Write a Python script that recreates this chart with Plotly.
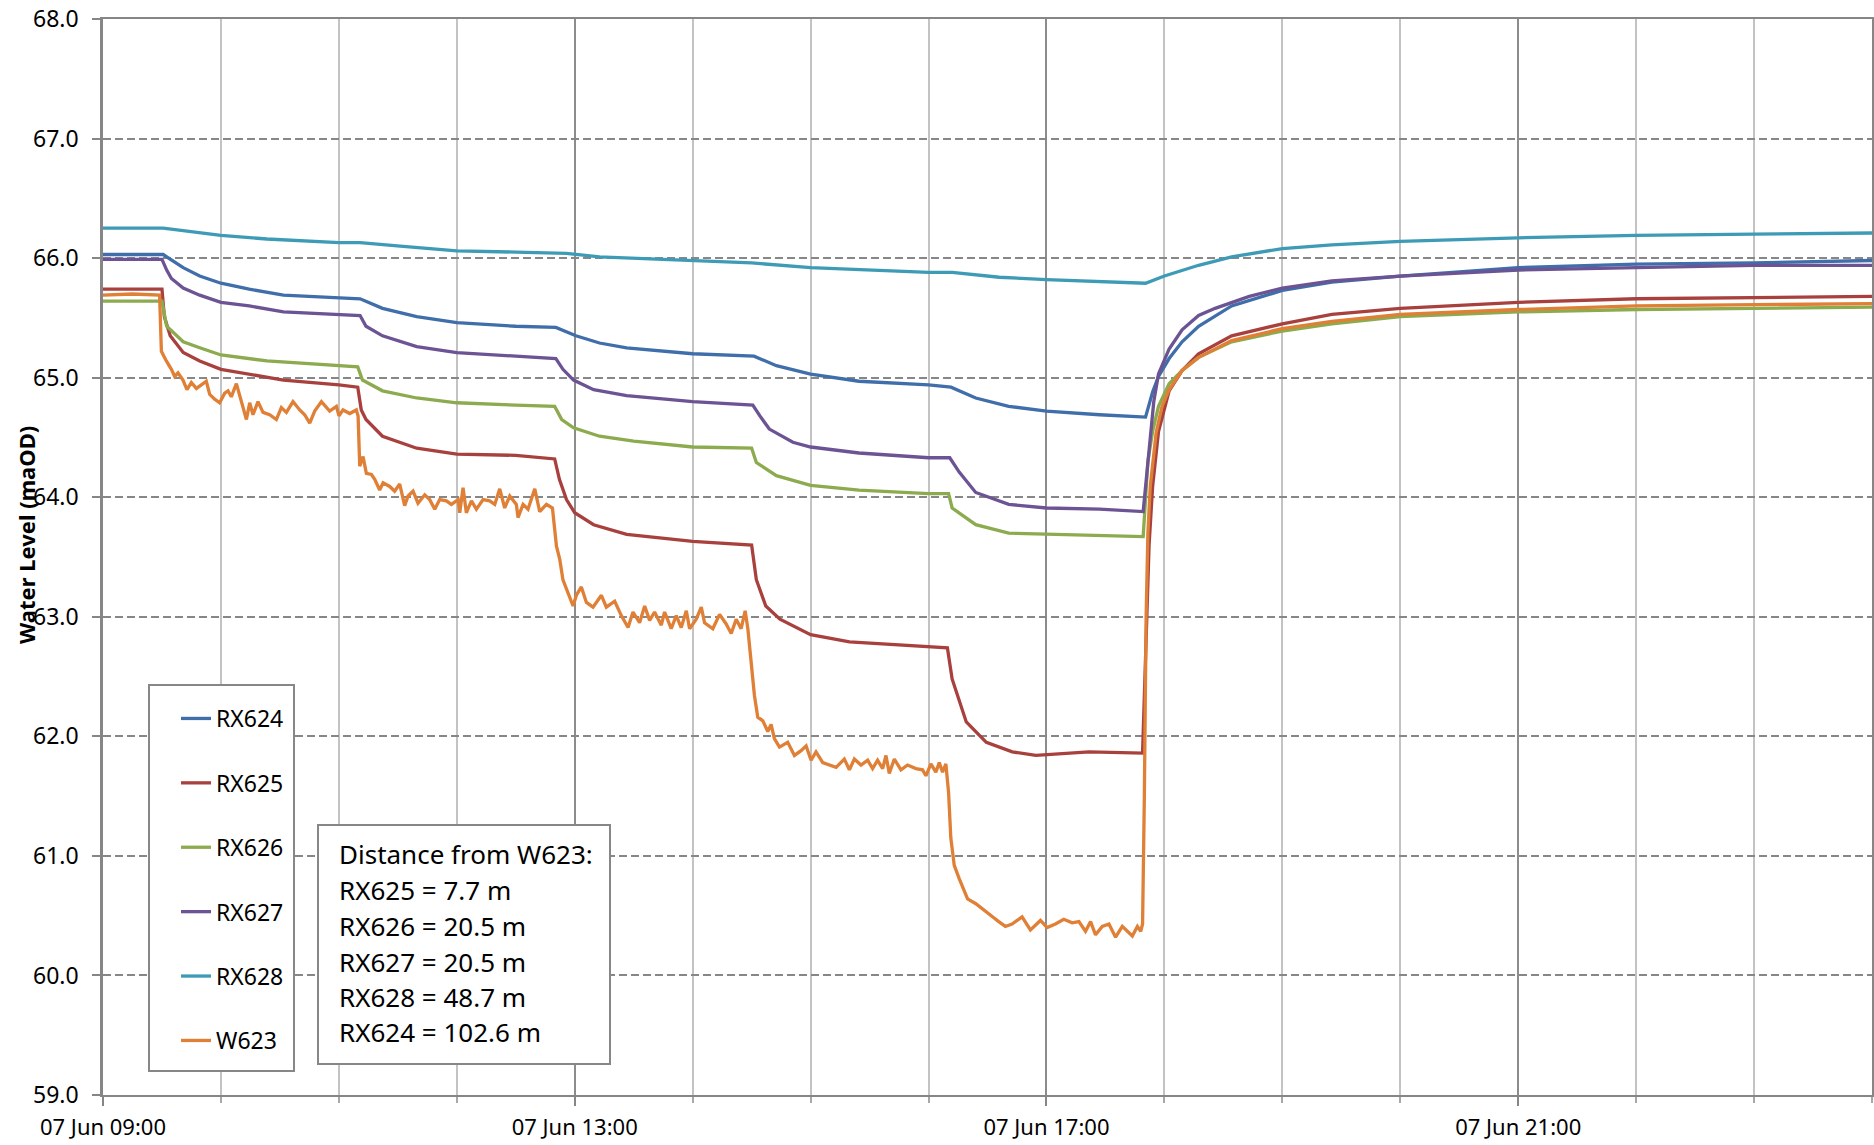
import pandas as pd
import plotly.graph_objects as go

# ---------------- data (hours after midnight, 07 Jun) ----------------
BASE_DATE = "2010-06-07"

rx624_t = [9.0, 9.51, 9.68, 9.82, 10.0, 10.24, 10.53, 11.0, 11.18, 11.37, 11.66, 12.0, 12.5, 12.84, 13.01,
           13.21, 13.44, 14.0, 14.52, 14.71, 15.0, 15.41, 16.0, 16.19, 16.40, 16.68, 17.0, 17.45, 17.84,
           17.9, 17.95, 18.04, 18.15, 18.29, 18.57, 19.0, 19.42, 20.0, 21.0, 22.0, 23.0, 24.0]
rx624_v = [66.03, 66.03, 65.92, 65.85, 65.79, 65.74, 65.69, 65.67, 65.66, 65.58, 65.51, 65.46, 65.43, 65.42, 65.35,
           65.29, 65.25, 65.20, 65.18, 65.10, 65.03, 64.97, 64.94, 64.92, 64.83, 64.76, 64.72, 64.69, 64.67,
           64.88, 65.01, 65.16, 65.30, 65.43, 65.60, 65.73, 65.80, 65.85, 65.92, 65.95, 65.96, 65.98]

rx625_t = [9.0, 9.50, 9.52, 9.57, 9.68, 9.82, 10.0, 10.24, 10.53, 11.0, 11.16, 11.19, 11.23, 11.37, 11.66,
           12.0, 12.5, 12.83, 12.87, 12.93, 13.0, 13.16, 13.44, 14.0, 14.5, 14.54, 14.62, 14.74, 15.0, 15.33,
           16.0, 16.16, 16.2, 16.32, 16.49, 16.71, 16.91, 17.36, 17.815, 17.835, 17.855, 17.87, 17.9, 17.95,
           18.04, 18.15, 18.29, 18.57, 19.0, 19.42, 20.0, 21.0, 22.0, 23.0, 24.0]
rx625_v = [65.74, 65.74, 65.51, 65.35, 65.21, 65.14, 65.07, 65.03, 64.98, 64.94, 64.92, 64.73, 64.65, 64.51, 64.41,
           64.36, 64.35, 64.32, 64.15, 63.98, 63.87, 63.77, 63.69, 63.63, 63.60, 63.31, 63.09, 62.98, 62.85, 62.79,
           62.75, 62.74, 62.48, 62.12, 61.95, 61.87, 61.84, 61.87, 61.86, 62.5, 63.2, 63.6, 64.09, 64.55,
           64.89, 65.06, 65.20, 65.35, 65.45, 65.53, 65.58, 65.63, 65.66, 65.67, 65.68]

rx626_t = [9.0, 9.50, 9.54, 9.68, 9.82, 10.0, 10.39, 11.0, 11.16, 11.2, 11.37, 11.66, 12.0, 12.5, 12.83,
           12.89, 12.99, 13.21, 13.5, 14.0, 14.5, 14.54, 14.71, 15.0, 15.41, 16.0, 16.17, 16.2, 16.4, 16.68,
           17.0, 17.82, 17.86, 17.9, 17.95, 18.04, 18.15, 18.29, 18.57, 19.0, 19.42, 20.0, 21.0, 22.0, 23.0, 24.0]
rx626_v = [65.64, 65.64, 65.43, 65.30, 65.25, 65.19, 65.14, 65.10, 65.09, 64.98, 64.89, 64.83, 64.79, 64.77, 64.76,
           64.65, 64.58, 64.51, 64.47, 64.42, 64.41, 64.29, 64.18, 64.10, 64.06, 64.03, 64.03, 63.91, 63.77, 63.70,
           63.69, 63.67, 64.30, 64.55, 64.76, 64.95, 65.06, 65.17, 65.30, 65.39, 65.45, 65.51, 65.55, 65.57, 65.58, 65.59]

rx627_t = [9.0, 9.50, 9.54, 9.58, 9.68, 9.82, 10.0, 10.24, 10.53, 11.0, 11.18, 11.23, 11.37, 11.66, 12.0,
           12.5, 12.84, 12.9, 12.99, 13.16, 13.44, 14.0, 14.51, 14.57, 14.65, 14.85, 15.0, 15.41, 16.0, 16.18,
           16.26, 16.40, 16.68, 17.0, 17.45, 17.82, 17.87, 17.91, 17.95, 18.04, 18.15, 18.29, 18.43, 18.72,
           19.0, 19.42, 20.0, 21.0, 22.0, 23.0, 24.0]
rx627_v = [65.99, 65.99, 65.90, 65.83, 65.75, 65.69, 65.63, 65.60, 65.55, 65.53, 65.52, 65.43, 65.35, 65.26, 65.21,
           65.18, 65.16, 65.07, 64.98, 64.90, 64.85, 64.80, 64.77, 64.68, 64.57, 64.46, 64.42, 64.37, 64.33, 64.33,
           64.21, 64.04, 63.94, 63.91, 63.90, 63.88, 64.40, 64.80, 65.03, 65.24, 65.40, 65.52, 65.58, 65.68,
           65.75, 65.81, 65.85, 65.90, 65.92, 65.94, 65.94]

rx628_t = [9.0, 9.51, 10.0, 10.39, 11.0, 11.18, 11.52, 12.0, 12.5, 12.93, 13.21, 13.5, 14.0, 14.5, 15.0, 15.5,
           16.0, 16.2, 16.6, 17.0, 17.5, 17.84, 18.0, 18.29, 18.57, 19.0, 19.42, 20.0, 21.0, 22.0, 23.0, 24.0]
rx628_v = [66.25, 66.25, 66.19, 66.16, 66.13, 66.13, 66.10, 66.06, 66.05, 66.04, 66.01, 66.00, 65.98, 65.96, 65.92,
           65.90, 65.88, 65.88, 65.84, 65.82, 65.80, 65.79, 65.85, 65.94, 66.01, 66.08, 66.11, 66.14, 66.17, 66.19,
           66.20, 66.21]

w623_t = [9.0, 9.25, 9.48, 9.495, 9.537, 9.580, 9.608, 9.636, 9.678, 9.712, 9.749, 9.792, 9.834, 9.876, 9.905,
          9.947, 9.989, 10.032, 10.060, 10.088, 10.131, 10.173, 10.216, 10.244, 10.272, 10.314, 10.357, 10.413,
          10.470, 10.512, 10.555, 10.611, 10.668, 10.710, 10.753, 10.795, 10.852, 10.922, 10.979, 11.001, 11.035,
          11.092, 11.148, 11.163, 11.177, 11.205, 11.233, 11.276, 11.304, 11.346, 11.375, 11.431, 11.473, 11.516,
          11.558, 11.587, 11.629, 11.671, 11.728, 11.770, 11.813, 11.855, 11.912, 11.954, 12.011, 12.025, 12.053,
          12.081, 12.124, 12.166, 12.223, 12.279, 12.322, 12.364, 12.406, 12.449, 12.505, 12.519, 12.562, 12.604,
          12.661, 12.703, 12.760, 12.811, 12.845, 12.873, 12.900, 12.986, 13.014, 13.056, 13.099, 13.155, 13.226,
          13.268, 13.339, 13.395, 13.452, 13.494, 13.550, 13.593, 13.635, 13.677, 13.734, 13.762, 13.818, 13.861,
          13.903, 13.946, 13.974, 14.030, 14.073, 14.101, 14.171, 14.228, 14.284, 14.327, 14.369, 14.411, 14.445,
          14.468, 14.496, 14.524, 14.552, 14.595, 14.637, 14.665, 14.693, 14.736, 14.806, 14.863, 14.919, 14.962,
          15.004, 15.046, 15.103, 15.159, 15.216, 15.286, 15.329, 15.371, 15.427, 15.484, 15.526, 15.568, 15.611,
          15.639, 15.667, 15.710, 15.766, 15.822, 15.893, 15.949, 15.978, 16.020, 16.062, 16.091, 16.119, 16.147,
          16.170, 16.189, 16.218, 16.260, 16.331, 16.401, 16.486, 16.556, 16.595, 16.652, 16.708, 16.793, 16.864,
          16.949, 17.006, 17.076, 17.147, 17.218, 17.275, 17.331, 17.374, 17.416, 17.473, 17.530, 17.586, 17.643,
          17.728, 17.771, 17.799, 17.815, 17.830, 17.845, 17.860, 17.880, 17.930, 17.980, 18.040, 18.150, 18.290,
          18.570, 19.000, 19.420, 20.000, 21.000, 22.000, 23.000, 24.000]
w623_v = [65.69, 65.70, 65.69, 65.22, 65.14, 65.07, 65.01, 65.04, 64.98, 64.90, 64.96, 64.91, 64.94, 64.97, 64.86,
          64.82, 64.79, 64.87, 64.89, 64.84, 64.95, 64.79, 64.65, 64.79, 64.69, 64.80, 64.71, 64.69,
          64.65, 64.75, 64.71, 64.80, 64.73, 64.69, 64.62, 64.72, 64.80, 64.72, 64.76, 64.68, 64.73,
          64.70, 64.73, 64.68, 64.26, 64.34, 64.20, 64.19, 64.15, 64.06, 64.12, 64.09, 64.05, 64.11,
          63.93, 64.01, 64.05, 63.95, 64.02, 63.98, 63.90, 63.98, 63.97, 63.94, 63.98, 63.87, 64.08,
          63.87, 63.97, 63.90, 63.98, 63.97, 63.94, 64.07, 63.91, 64.01, 63.94, 63.83, 63.94, 63.90,
          64.07, 63.88, 63.94, 63.91, 63.59, 63.48, 63.31, 63.09, 63.18, 63.25, 63.12, 63.08, 63.18,
          63.08, 63.13, 63.01, 62.91, 63.04, 62.95, 63.09, 62.97, 63.04, 62.93, 63.04, 62.90, 63.01,
          62.91, 63.05, 62.90, 62.98, 63.08, 62.95, 62.90, 63.02, 62.94, 62.86, 62.98, 62.90, 63.05,
          62.90, 62.62, 62.34, 62.16, 62.13, 62.04, 62.10, 61.98, 61.91, 61.95, 61.84, 61.88, 61.92,
          61.80, 61.87, 61.78, 61.76, 61.74, 61.81, 61.72, 61.81, 61.76, 61.80, 61.73, 61.80, 61.73,
          61.84, 61.69, 61.81, 61.72, 61.76, 61.73, 61.72, 61.67, 61.77, 61.70, 61.78, 61.70, 61.77,
          61.53, 61.15, 60.92, 60.81, 60.64, 60.60, 60.53, 60.48, 60.45, 60.41, 60.43, 60.49, 60.38,
          60.46, 60.40, 60.43, 60.47, 60.44, 60.45, 60.37, 60.45, 60.34, 60.41, 60.43, 60.32, 60.41,
          60.33, 60.41, 60.37, 60.43, 61.50, 63.00, 63.70, 64.09, 64.54, 64.76, 64.90, 65.06, 65.17,
          65.31, 65.41, 65.47, 65.53, 65.57, 65.60, 65.61, 65.62]

series_names = ["RX624", "RX625", "RX626", "RX627", "RX628", "W623"]
series_times = [rx624_t, rx625_t, rx626_t, rx627_t, rx628_t, w623_t]
series_values = [rx624_v, rx625_v, rx626_v, rx627_v, rx628_v, w623_v]
series_colors = ["#3F6EAA", "#A8403E", "#8CAA4E", "#6C5393", "#3E9BB5", "#E07F36"]

y_ticks = [59.0, 60.0, 61.0, 62.0, 63.0, 64.0, 65.0, 66.0, 67.0, 68.0]
y_title = "Water Level (maOD)"
note_lines = ["Distance from W623:", "RX625 = 7.7 m", "RX626 = 20.5 m",
              "RX627 = 20.5 m", "RX628 = 48.7 m", "RX624 = 102.6 m"]

# ---------------- layout geometry (pixels) ----------------
W, H = 1874, 1145
ML, MR, MT, MB = 103, 2, 19, 50
PW, PH = W - ML - MR, H - MT - MB
FONT = "Noto Sans, Open Sans, sans-serif"
GRID = "#878787"


def px(x, y):
    return (x - ML) / PW, (H - MB - y) / PH


base = pd.Timestamp(BASE_DATE)


def to_time(hours):
    return base + pd.to_timedelta(pd.Series(hours), unit="h")


fig = go.Figure()
for name, t, v, c in zip(series_names, series_times, series_values, series_colors):
    fig.add_trace(go.Scatter(x=to_time(t), y=v, mode="lines", name=name, legendgroup=name,
                             line=dict(color=c, width=3.3)))

# legend box
lx0, ly0 = px(149, 685)
lx1, ly1 = px(294, 1071)
fig.add_shape(type="rect", xref="paper", yref="paper", x0=lx0, y0=ly1, x1=lx1, y1=ly0,
              fillcolor="white", line=dict(color="#878787", width=2), layer="above")

# text box
tx0, ty0 = px(318, 825)
tx1, ty1 = px(610, 1064)
fig.add_shape(type="rect", xref="paper", yref="paper", x0=tx0, y0=ty1, x1=tx1, y1=ty0,
              fillcolor="white", line=dict(color="#878787", width=2), layer="above")
line_y = [854, 890, 926, 962, 997, 1032]
for txt, yy in zip(note_lines, line_y):
    ax, ay = px(337, yy)
    fig.add_annotation(text=txt, xref="paper", yref="paper", x=ax, y=ay, xanchor="left",
                       yanchor="middle", showarrow=False, font=dict(family=FONT, size=26, color="black"))

# y axis title
yx, yy = px(26, 535)
fig.add_annotation(text="<b>" + y_title + "</b>", xref="paper", yref="paper", x=yx, y=yy,
                   xanchor="center", yanchor="middle", textangle=-90, showarrow=False,
                   font=dict(family=FONT, size=22, color="black"))

legx, legy = px(176, 697)
fig.update_layout(
    width=W, height=H,
    margin=dict(l=ML, r=MR, t=MT, b=MB, pad=0, autoexpand=False),
    paper_bgcolor="white", plot_bgcolor="white",
    font=dict(family=FONT, size=22, color="black"),
    showlegend=True,
    legend=dict(x=legx, y=legy, xanchor="left", yanchor="top", bgcolor="rgba(0,0,0,0)",
                borderwidth=0, font=dict(family=FONT, size=23, color="black"),
                tracegroupgap=31.5, traceorder="grouped"),
    xaxis=dict(
        type="date", automargin=False,
        range=[base + pd.Timedelta(hours=9), base + pd.Timedelta(hours=24)],
        tickmode="linear", tick0=base + pd.Timedelta(hours=9), dtick=4 * 3600000,
        tickformat="%d %b %H:%M",
        showgrid=True, gridcolor="#8C8C8C", gridwidth=2,
        ticks="outside", ticklen=9, tickwidth=2, tickcolor="#868686",
        showline=True, linecolor="#868686", linewidth=2, mirror=True,
        zeroline=False, ticklabelstandoff=3,
        tickfont=dict(family=FONT, size=22, color="black"),
        minor=dict(dtick=3600000, tick0=base + pd.Timedelta(hours=9), showgrid=True,
                   gridcolor="#C3C3C3", gridwidth=1.6, ticks="outside", ticklen=6,
                   tickwidth=1.6, tickcolor="#A8A8A8"),
    ),
    yaxis=dict(
        range=[59, 68], tickmode="array", tickvals=y_ticks, automargin=False,
        ticktext=[f"{v:.1f}" for v in y_ticks],
        showgrid=True, gridcolor=GRID, gridwidth=1.6, griddash="8px,4px",
        ticks="outside", ticklen=8, tickwidth=2, tickcolor="#868686",
        showline=True, linecolor="#868686", linewidth=2.5, mirror=True,
        zeroline=False, ticklabelstandoff=9,
        tickfont=dict(family=FONT, size=23, color="black"),
    ),
)

fig.write_html("out.html", config={"displayModeBar": False},
               post_script="document.body.style.margin='0';document.body.style.overflow='hidden';")
